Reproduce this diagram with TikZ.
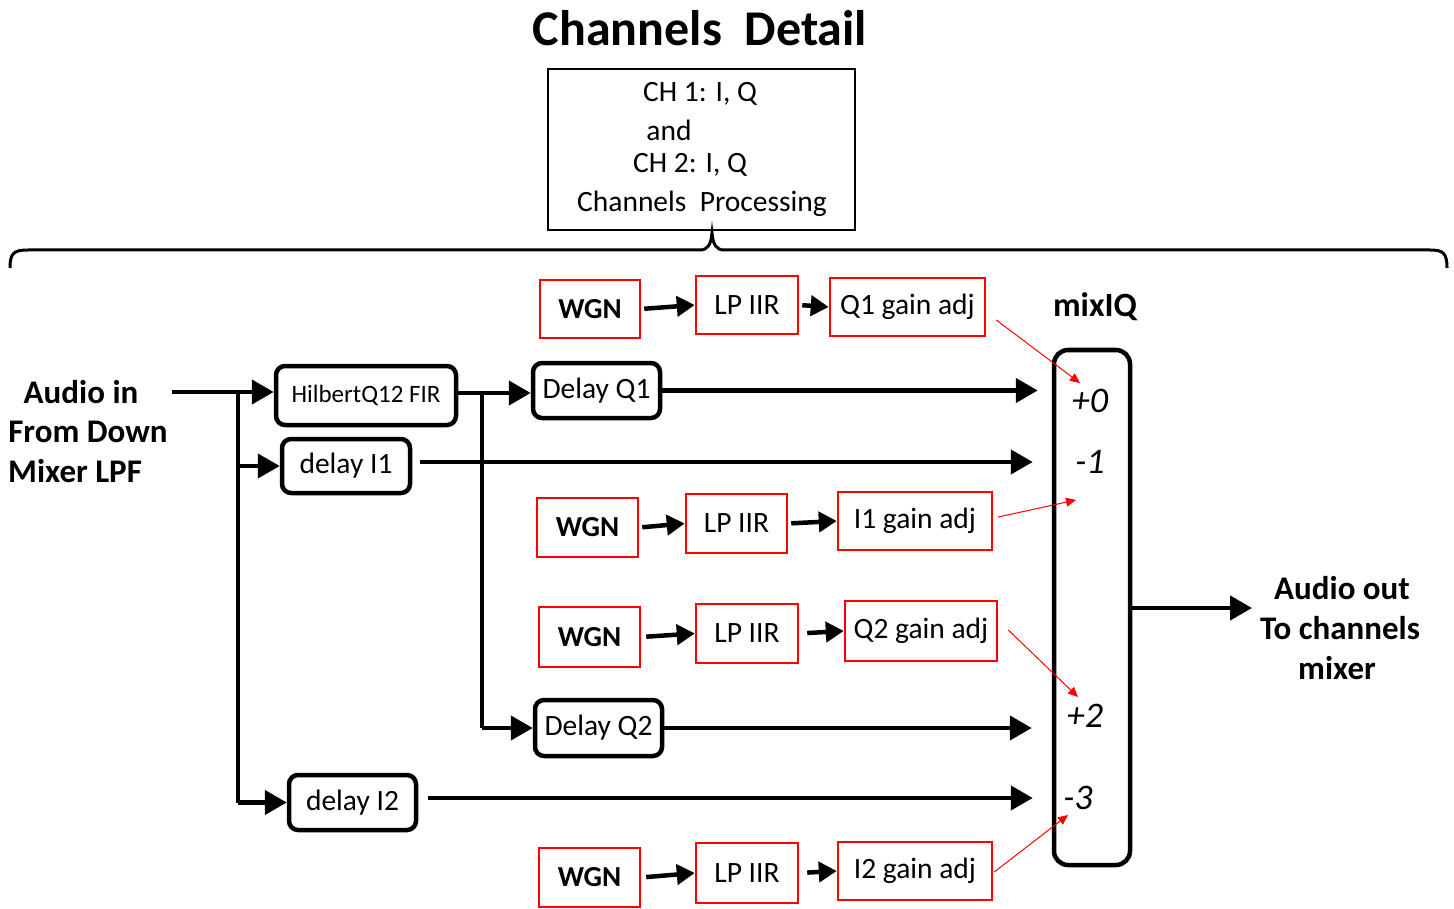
\documentclass[tikz,border=0pt]{standalone}
\usepackage{fontspec}
\setmainfont{Carlito}
\usetikzlibrary{arrows.meta,calc}
\newcommand{\myfs}[2]{\fontsize{#1}{#2}\selectfont}
\begin{document}
\begin{tikzpicture}[x=1pt,y=-1pt,
  bbox/.style={draw, line width=4.5pt, rounded corners=9pt, inner sep=0pt, font=\myfs{29.5}{34}},
  rbox/.style={draw=red, line width=2.5pt, inner sep=0pt, font=\myfs{29.5}{34}},
  wgn/.style={font=\bfseries\myfs{29}{34}},
  big/.style={-{Triangle[length=22pt,width=24pt]}, line width=4.5pt},
  wire/.style={line width=4.5pt},
  bar/.style={-{Triangle[length=18pt,width=20pt]}, line width=4.5pt},
  thinr/.style={red, line width=1pt, -{Triangle[length=10pt,width=9pt]}},
  lbl/.style={inner sep=0pt, font=\myfs{29.5}{34}},
  side/.style={inner sep=0pt, font=\bfseries\myfs{33}{38}},
  gain/.style={inner sep=0pt, font=\itshape\myfs{36}{40}}]
\useasboundingbox (0,0) rectangle (1454,909);

% title
\node[inner sep=0pt, font=\bfseries\myfs{50}{56}] (title) at (700,28) {Channels\ \ Detail};

% top box
\node[draw, line width=2.5pt, minimum width=307pt, minimum height=161pt, inner sep=0pt] (top) at (701.5,149.5) {};
\node[lbl] (t1) at (700,94) {CH 1: I, Q};
\node[lbl] (t2) at (669,130) {and};
\node[lbl] (t3) at (690,165) {CH 2: I, Q};
\node[lbl] (t4) at (702,204) {Channels\ \ Processing};

% brace
\draw[line width=3pt] (10,268) .. controls (10,253) and (14,250) .. (28,250) -- (700,250)
  .. controls (708,250) and (711,244) .. (712,233) .. controls (713,244) and (716,250) .. (724,250)
  -- (1430,250) .. controls (1443,250) and (1447,253) .. (1447,268);

% left text
\node[side] (ain1) at (81,392) {Audio in};
\node[side] (ain2) at (88,432) {From Down};
\node[side, anchor=west] (ain3) at (8,471) {Mixer LPF};
\node[side] (aout1) at (1342,588) {Audio out};
\node[side] (aout2) at (1340,628) {To channels};
\node[side] (aout3) at (1337,668) {mixer};

% black boxes
\node[bbox, minimum width=180pt, minimum height=59pt, font=\myfs{25}{30}] (hil) at (366,395.5) {HilbertQ12 FIR};
\node[bbox, minimum width=128pt, minimum height=54pt] (di1) at (346,466) {delay I1};
\node[bbox, minimum width=127pt, minimum height=55pt] (dq1) at (596.5,390.5) {Delay Q1};
\node[bbox, minimum width=127pt, minimum height=56pt] (dq2) at (598.5,728) {Delay Q2};
\node[bbox, minimum width=127pt, minimum height=55pt] (di2) at (352.5,802.5) {delay I2};
\node[draw, line width=4.5pt, rounded corners=14pt, minimum width=76pt, minimum height=515pt, inner sep=0pt] (mix) at (1092,607.5) {};
\node[inner sep=0pt, font=\bfseries\myfs{34}{40}] (mixl) at (1095,307) {mixIQ};

% gain labels
\node[gain] (g0) at (1090,401) {+0};
\node[gain] (gm1) at (1090,462) {-1};
\node[gain] (gp2) at (1085,716) {+2};
\node[gain] (gm3) at (1078,798) {-3};

% red boxes
\node[rbox, minimum width=100pt, minimum height=58pt, wgn] (w1) at (590,309) {WGN};
\node[rbox, minimum width=102pt, minimum height=58pt] (l1) at (747,305) {LP IIR};
\node[rbox, minimum width=155pt, minimum height=58pt] (g1) at (907.5,307) {Q1 gain adj};
\node[rbox, minimum width=101pt, minimum height=59pt, wgn] (w2) at (587.5,527.5) {WGN};
\node[rbox, minimum width=101pt, minimum height=59pt] (l2) at (736.5,523.5) {LP IIR};
\node[rbox, minimum width=154pt, minimum height=58pt] (g2) at (915,521) {I1 gain adj};
\node[rbox, minimum width=101pt, minimum height=60pt, wgn] (w3) at (589.5,637) {WGN};
\node[rbox, minimum width=102pt, minimum height=59pt] (l3) at (747,633.5) {LP IIR};
\node[rbox, minimum width=152pt, minimum height=60pt] (g3) at (921,631) {Q2 gain adj};
\node[rbox, minimum width=101pt, minimum height=59pt, wgn] (w4) at (589.5,877.5) {WGN};
\node[rbox, minimum width=102pt, minimum height=60pt] (l4) at (747,873) {LP IIR};
\node[rbox, minimum width=154pt, minimum height=58pt] (g4) at (915,871) {I2 gain adj};

% red chain arrows
\draw[bar, shorten <=3pt] (w1.east) -- (l1.west);
\draw[bar, shorten <=3pt] (l1.east) -- (g1.west);
\draw[bar, shorten <=3pt] (w2.east) -- (l2.west);
\draw[bar, shorten <=3pt] (l2.east) -- (g2.west);
\draw[bar, shorten <=5pt] (w3.east) -- (l3.west);
\draw[bar, shorten <=8pt] (l3.east) -- (g3.west);
\draw[bar, shorten <=5pt] (w4.east) -- (l4.west);
\draw[bar, shorten <=8pt] (l4.east) -- (g4.west);

% input wiring
\coordinate (in) at (172,392);
\coordinate (b1) at (238,392);
\coordinate (b2) at (482,393);
\coordinate (out) at (1252,608);
\draw[big] (in) -- (in -| hil.west);
\draw[wire] (b1) -- (b1 |- di2.west);
\draw[big] (b1 |- di1.west) -- (di1.west);
\draw[big] (b1 |- di2.west) -- (di2.west);
\draw[big] (hil.east |- b2) -- (b2 -| dq1.west);
\draw[wire] (b2) -- (b2 |- dq2.west);
\draw[big] (b2 |- dq2.west) -- (dq2.west);

% to mixer
\draw[big, shorten >=14pt] (dq1.east) -- (dq1.east -| mix.west);
\draw[big, shorten <=8pt, shorten >=19pt] (di1.east |- gm1) -- (gm1 -| mix.west);
\draw[big, shorten >=20pt] (dq2.east) -- (dq2.east -| mix.west);
\draw[big, shorten <=10pt, shorten >=19pt] (di2.east |- gm3) -- (gm3 -| mix.west);
\draw[big] (mix.east |- out) -- (out);

% red gain arrows
\coordinate (r0) at (1080,383);
\coordinate (r1) at (1076,500);
\coordinate (r2) at (1078,697);
\coordinate (r3) at (1068,815);
\draw[thinr] ($(g1.east)+(10,13)$) -- (r0);
\draw[thinr] ($(g2.east)+(5,-4)$) -- (r1);
\draw[thinr] ($(g3.east)+(10,-1)$) -- (r2);
\draw[thinr] ($(g4.east)+(1,1)$) -- (r3);
\end{tikzpicture}
\end{document}
